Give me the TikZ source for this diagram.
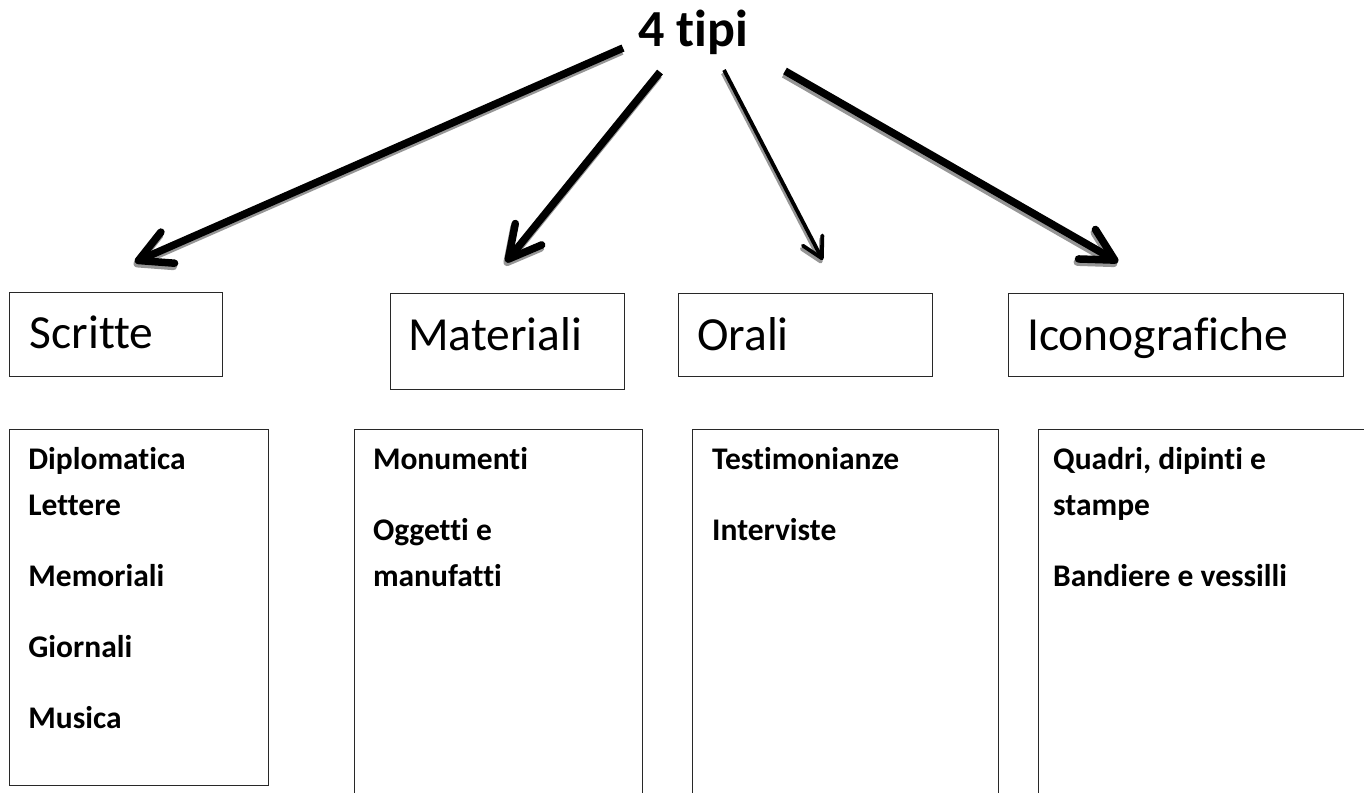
\documentclass[tikz,border=0pt]{standalone}
\usepackage{fontspec}
\setmainfont{Carlito}[Ligatures=NoCommon]
\usetikzlibrary{arrows.meta}
\definecolor{shadowgray}{RGB}{150,150,150}
\definecolor{boxline}{RGB}{40,40,40}
\begin{document}
\begin{tikzpicture}[x=1pt,y=-1pt,
  box/.style={draw=boxline, line width=1pt, anchor=north west, inner sep=0pt},
  headtext/.style={anchor=base west, inner sep=0pt, font=\fontsize{47.5}{57}\selectfont},
  itemtext/.style={anchor=base west, inner sep=0pt, font=\bfseries\fontsize{31.5}{38}\selectfont},
  titletext/.style={anchor=base west, inner sep=0pt, font=\bfseries\fontsize{52}{62}\selectfont},
  thickarrow/.style={draw=black, line width=7.5pt, -{Straight Barb[length=32pt,width=34pt,round]}},
  thinarrow/.style={draw=black, line width=3.8pt, -{Straight Barb[length=20pt,width=22pt,round]}},
  shadowed/.style={draw=shadowgray, transform canvas={shift={(-1.2pt,-3.2pt)}}}
]
\useasboundingbox (0,0) rectangle (1364,792);
\begin{scope}
\clip (0,0) rectangle (1364,792);

% title
\node[titletext] (title) at (638,46.7) {4 tipi};

% header boxes
\node[box, minimum width=212.7pt, minimum height=84pt] (hS) at (9.3,291.7) {};
\node[box, minimum width=234.3pt, minimum height=96pt] (hM) at (390,293.3) {};
\node[box, minimum width=254.3pt, minimum height=82.4pt] (hO) at (678,293.3) {};
\node[box, minimum width=334.7pt, minimum height=82.7pt] (hI) at (1008,293.3) {};

\node[headtext] (tS) at (29.5,348.3) {Scritte};
\node[headtext] (tM) at (408,350.7) {Materiali};
\node[headtext] (tO) at (697,350.5) {Orali};
\node[headtext] (tI) at (1027,350.7) {Iconografiche};

% list boxes
\node[box, minimum width=258.7pt, minimum height=356pt] (lS) at (9.3,428.7) {};
\node[box, minimum width=288.3pt, minimum height=400pt] (lM) at (354,428.7) {};
\node[box, minimum width=306pt, minimum height=400pt] (lO) at (692.3,428.7) {};
\node[box, minimum width=400pt, minimum height=400pt] (lI) at (1038,428.7) {};

% list items
\node[itemtext] (s1t) at (28.2,469.5) {Diplomatica};
\node[itemtext] (s2t) at (28.2,515) {Lettere};
\node[itemtext] (s3t) at (28.2,586) {Memoriali};
\node[itemtext] (s4t) at (28.2,657.5) {Giornali};
\node[itemtext] (s5t) at (28.2,728.5) {Musica};

\node[itemtext] (m1t) at (372.8,469.5) {Monumenti};
\node[itemtext] (m2t) at (372.8,540) {Oggetti e};
\node[itemtext] (m3t) at (372.8,586) {manufatti};

\node[itemtext] (o1t) at (712,469.5) {Testimonianze};
\node[itemtext] (o2t) at (712,540) {Interviste};

\node[itemtext] (i1t) at (1053,469.5) {Quadri, dipinti e};
\node[itemtext] (i2t) at (1053,515) {stampe};
\node[itemtext] (i3t) at (1053,586) {Bandiere e vessilli};

% arrow endpoints
\coordinate (a1s) at (623,48);
\coordinate (a1e) at (135,262);
\coordinate (a2s) at (660,72);
\coordinate (a2e) at (506,262);
\coordinate (a3s) at (724,70);
\coordinate (a3e) at (822.7,260);
\coordinate (a4s) at (785,71);
\coordinate (a4e) at (1118,262);

% shadows
\draw[thickarrow, shadowed] (a1s) -- (a1e);
\draw[thickarrow, shadowed] (a2s) -- (a2e);
\draw[thinarrow, shadowed] (a3s) -- (a3e);
\draw[thickarrow, shadowed] (a4s) -- (a4e);

% arrows
\draw[thickarrow] (a1s) -- (a1e);
\draw[thickarrow] (a2s) -- (a2e);
\draw[thinarrow] (a3s) -- (a3e);
\draw[thickarrow] (a4s) -- (a4e);
\end{scope}
\end{tikzpicture}
\end{document}
